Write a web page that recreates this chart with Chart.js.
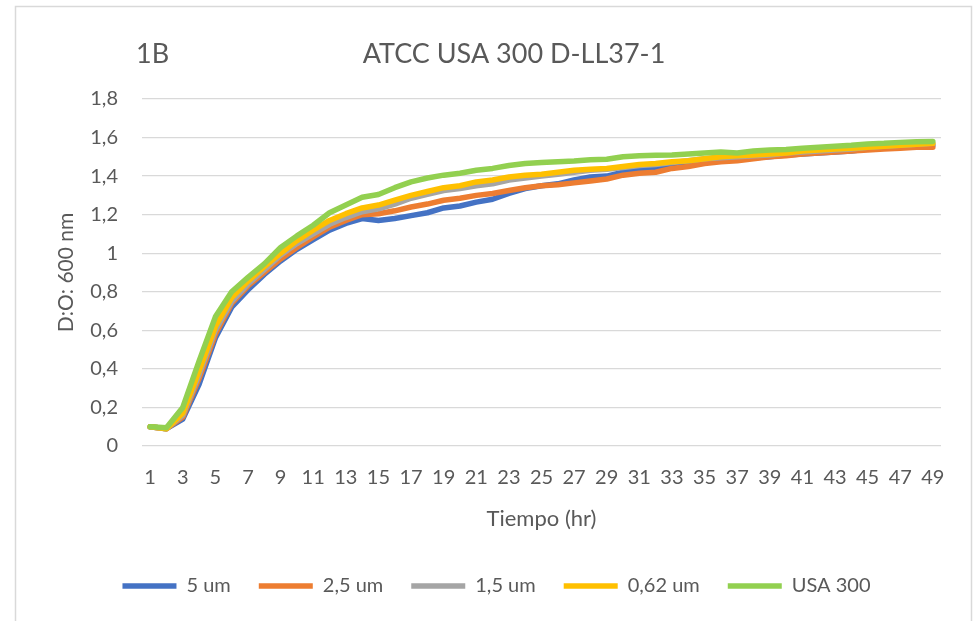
<!DOCTYPE html>
<html>
<head>
<meta charset="utf-8">
<script src="https://cdn.jsdelivr.net/npm/chart.js@4"></script>
<style>
  html, body { margin: 0; padding: 0; background: #fff; }
  #wrap { width: 978px; height: 621px; }
</style>
</head>
<body>
<div id="wrap"><canvas id="grafOD" width="978" height="621"></canvas></div>
<script>
const PANEL = "1B";
const TITULO = "ATCC USA 300 D-LL37-1";

const horas = Array.from({ length: 49 }, (_, i) => String(i + 1));
const yTicks = ["0", "0,2", "0,4", "0,6", "0,8", "1", "1,2", "1,4", "1,6", "1,8"];

const serie5um = [0.10, 0.09, 0.14, 0.32, 0.56, 0.72, 0.81, 0.89, 0.96, 1.02,
  1.07, 1.12, 1.155, 1.18, 1.17, 1.18, 1.195, 1.21, 1.235, 1.245,
  1.265, 1.28, 1.31, 1.335, 1.35, 1.36, 1.38, 1.395, 1.40, 1.42,
  1.43, 1.44, 1.455, 1.465, 1.475, 1.48, 1.485, 1.495, 1.50, 1.51,
  1.515, 1.52, 1.525, 1.53, 1.54, 1.545, 1.55, 1.555, 1.56];

const serie25um = [0.10, 0.09, 0.15, 0.35, 0.58, 0.74, 0.83, 0.90, 0.97, 1.03,
  1.085, 1.135, 1.17, 1.20, 1.205, 1.22, 1.24, 1.255, 1.275, 1.285,
  1.30, 1.31, 1.325, 1.34, 1.35, 1.355, 1.365, 1.375, 1.385, 1.405,
  1.415, 1.42, 1.44, 1.45, 1.465, 1.475, 1.48, 1.49, 1.50, 1.505,
  1.515, 1.52, 1.525, 1.53, 1.535, 1.54, 1.545, 1.55, 1.55];

const serie15um = [0.10, 0.09, 0.16, 0.37, 0.60, 0.75, 0.84, 0.915, 0.99, 1.05,
  1.10, 1.15, 1.185, 1.215, 1.23, 1.255, 1.285, 1.305, 1.325, 1.335,
  1.35, 1.36, 1.38, 1.39, 1.40, 1.41, 1.42, 1.43, 1.435, 1.445,
  1.455, 1.46, 1.47, 1.48, 1.49, 1.495, 1.50, 1.505, 1.51, 1.52,
  1.525, 1.53, 1.535, 1.54, 1.55, 1.555, 1.56, 1.565, 1.57];

const serie062um = [0.10, 0.09, 0.17, 0.39, 0.62, 0.77, 0.855, 0.93, 1.00, 1.065,
  1.12, 1.17, 1.205, 1.235, 1.25, 1.275, 1.30, 1.32, 1.34, 1.35,
  1.37, 1.38, 1.395, 1.405, 1.41, 1.42, 1.43, 1.435, 1.44, 1.45,
  1.46, 1.465, 1.475, 1.48, 1.49, 1.50, 1.505, 1.51, 1.515, 1.52,
  1.53, 1.535, 1.54, 1.545, 1.55, 1.555, 1.56, 1.565, 1.57];

const serieUSA300 = [0.10, 0.095, 0.20, 0.44, 0.67, 0.80, 0.875, 0.945, 1.03, 1.09,
  1.145, 1.21, 1.25, 1.29, 1.305, 1.34, 1.37, 1.39, 1.405, 1.415,
  1.43, 1.44, 1.455, 1.465, 1.47, 1.475, 1.478, 1.485, 1.487, 1.50,
  1.505, 1.508, 1.51, 1.515, 1.52, 1.525, 1.52, 1.53, 1.535, 1.538,
  1.545, 1.55, 1.555, 1.56, 1.567, 1.57, 1.575, 1.578, 1.58];

const TEXTO = "#595959";
const FUENTE = "Lato, 'Open Sans', sans-serif";

function serie(label, data, color, order) {
  return {
    label: label,
    data: data,
    borderColor: color,
    backgroundColor: color,
    borderWidth: 5.5,
    borderCapStyle: "round",
    borderJoinStyle: "round",
    pointRadius: 0,
    tension: 0,
    order: order
  };
}

// marco y titulos como en Excel
const marcoYTitulos = {
  id: "marcoYTitulos",
  beforeDraw(chart) {
    const ctx = chart.ctx;
    ctx.save();
    ctx.fillStyle = "#fff";
    ctx.fillRect(0, 0, chart.width, chart.height);
    ctx.strokeStyle = "#d9d9d9";
    ctx.lineWidth = 1.5;
    ctx.strokeRect(15.5, 6.5, 956, 700);
    ctx.restore();
  },
  afterDraw(chart) {
    const ctx = chart.ctx;
    ctx.save();
    ctx.fillStyle = TEXTO;
    ctx.font = "27px " + FUENTE;
    ctx.textBaseline = "alphabetic";
    ctx.textAlign = "left";
    ctx.fillText(PANEL, 136, 63);
    ctx.textAlign = "center";
    ctx.fillText(TITULO, 514, 63);
    ctx.restore();
  }
};

const ctx = document.getElementById("grafOD").getContext("2d");
new Chart(ctx, {
  type: "line",
  data: {
    labels: horas,
    datasets: [
      serie("5 um", serie5um, "#4472C4", 5),
      serie("2,5 um", serie25um, "#ED7D31", 4),
      serie("1,5 um", serie15um, "#A5A5A5", 3),
      serie("0,62 um", serie062um, "#FFC000", 2),
      serie("USA 300", serieUSA300, "#92D050", 1)
    ]
  },
  options: {
    responsive: false,
    animation: false,
    layout: { padding: { top: 99, right: 37, bottom: 15, left: 52 } },
    plugins: {
      tooltip: { enabled: false },
      legend: {
        position: "bottom",
        labels: {
          usePointStyle: true,
          pointStyle: "line",
          pointStyleWidth: 54,
          boxHeight: 20,
          padding: 28,
          color: TEXTO,
          font: { family: FUENTE, size: 20 },
          sort: (a, b) => a.datasetIndex - b.datasetIndex
        }
      }
    },
    scales: {
      x: {
        offset: true,
        grid: { display: false, drawTicks: false },
        border: { display: false },
        ticks: {
          autoSkip: false,
          maxRotation: 0,
          padding: 20,
          color: TEXTO,
          font: { family: FUENTE, size: 20 },
          callback: (v, i) => (i % 2 === 0 ? horas[i] : "")
        },
        title: {
          display: true,
          text: "Tiempo (hr)",
          color: TEXTO,
          font: { family: FUENTE, size: 22 },
          padding: { top: 15, bottom: 16 }
        },
        afterFit: scale => { scale.height = 102; }
      },
      y: {
        min: 0,
        max: 1.8,
        grid: { color: "#d9d9d9", lineWidth: 1.3, drawTicks: false },
        border: { display: false },
        ticks: {
          stepSize: 0.2,
          padding: 24,
          color: TEXTO,
          font: { family: FUENTE, size: 20 },
          callback: (v, i) => yTicks[i]
        },
        title: {
          display: true,
          text: "D:O: 600 nm",
          color: TEXTO,
          font: { family: FUENTE, size: 21 },
          padding: { top: 2, bottom: 0 }
        },
        afterFit: scale => { scale.width = 90; }
      }
    }
  },
  plugins: [marcoYTitulos]
});
</script>
</body>
</html>
